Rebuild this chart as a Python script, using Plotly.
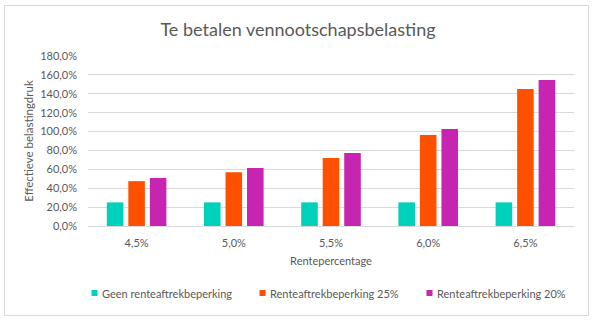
import plotly.graph_objects as go

categories = ["4,5%", "5,0%", "5,5%", "6,0%", "6,5%"]
series_names = ["Geen renteaftrekbeperking", "Renteaftrekbeperking 25%", "Renteaftrekbeperking 20%"]
geen = [25.0, 25.0, 25.0, 25.0, 25.0]
beperking25 = [47.5, 57.0, 72.0, 96.3, 145.0]
beperking20 = [50.8, 61.4, 77.2, 102.6, 154.5]
colors = ["#00D1BA", "#FF5000", "#C724B1"]
y_ticks = [0, 20, 40, 60, 80, 100, 120, 140, 160, 180]
y_ticklabels = ["0,0%", "20,0%", "40,0%", "60,0%", "80,0%", "100,0%", "120,0%", "140,0%", "160,0%", "180,0%"]

FONT = "Lato"
TXT = "#595959"
FS = 11
W, H = 596, 322
ML, MR, MT, MB = 88, 22, 56, 96
PW, PH = W - ML - MR, H - MT - MB

def px_x(x):
    return (x - ML) / PW

def px_y(y):
    return (H - MB - y) / PH

fig = go.Figure()
for name, vals, col in zip(series_names, [geen, beperking25, beperking20], colors):
    fig.add_trace(go.Bar(x=categories, y=vals, name=name, marker_color=col,
                         marker_line_width=0, showlegend=False))

# border around chart
fig.add_shape(type="rect", xref="paper", yref="paper",
              x0=px_x(4.5), x1=px_x(588.5), y0=px_y(315.5), y1=px_y(5.5),
              line=dict(color="#D9D9D9", width=1), fillcolor="rgba(0,0,0,0)", layer="below")

# custom legend
leg_sq_x = [91.5, 259.5, 426.5]
leg_y = 293
for name, col, sx in zip(series_names, colors, leg_sq_x):
    fig.add_shape(type="rect", xref="paper", yref="paper",
                  x0=px_x(sx), x1=px_x(sx + 6), y0=px_y(leg_y + 3), y1=px_y(leg_y - 3),
                  fillcolor=col, line_width=0)
    fig.add_annotation(text=name, xref="paper", yref="paper", x=px_x(sx + 8), y=px_y(leg_y),
                       xanchor="left", yanchor="middle", showarrow=False,
                       font=dict(family=FONT, size=FS, color=TXT))

fig.update_layout(
    width=W, height=H,
    margin=dict(l=ML, r=MR, t=MT, b=MB, pad=0),
    paper_bgcolor="white", plot_bgcolor="white",
    barmode="group", bargap=0.336, bargroupgap=0.23,
    title=dict(text="Te betalen vennootschapsbelasting", x=298 / W, xanchor="center",
               y=1 - 30 / H, yanchor="middle", xref="container", yref="container",
               font=dict(family=FONT, size=18, color=TXT)),
    font=dict(family=FONT, size=FS, color=TXT),
    xaxis=dict(showgrid=False, showline=True, linecolor="#D9D9D9", linewidth=1,
               ticks="", ticklabelstandoff=7, tickfont=dict(size=FS, color=TXT),
               title=dict(text="Rentepercentage", standoff=9, font=dict(size=FS, color=TXT))),
    yaxis=dict(range=[0, 180], tickvals=y_ticks, ticktext=y_ticklabels,
               showgrid=True, gridcolor="#D9D9D9", gridwidth=1, zeroline=False,
               showline=False, ticks="", ticklabelstandoff=10,
               tickfont=dict(size=FS, color=TXT),
               title=dict(text="Effectieve belastingdruk", standoff=4, font=dict(size=11.5, color=TXT))),
)

fig.write_html("out.html")
